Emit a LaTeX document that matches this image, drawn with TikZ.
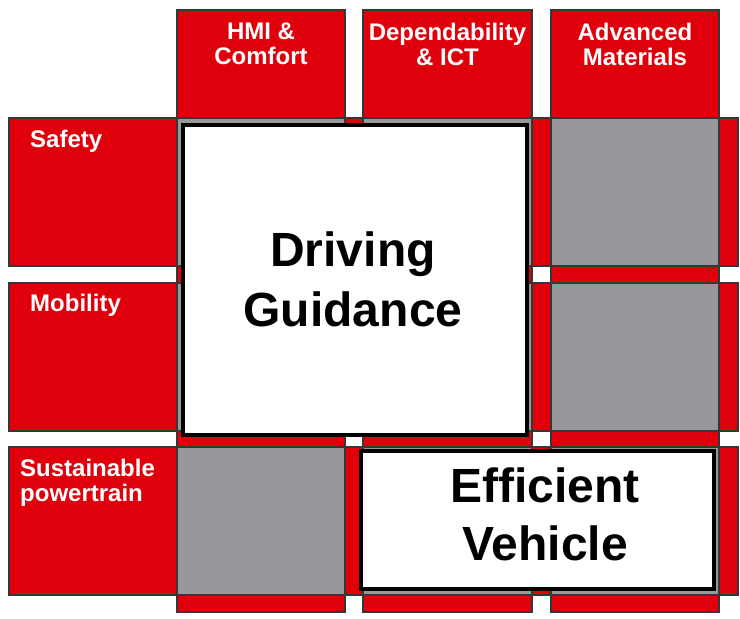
\documentclass[tikz,border=0pt]{standalone}
\usepackage{fontspec}
\setmainfont{Liberation Sans}
\usepackage{tikz}
\usetikzlibrary{positioning}
\definecolor{StripRed}{RGB}{223, 0, 11}
\definecolor{CellGrey}{RGB}{152, 151, 156}
\definecolor{EdgeGrey}{RGB}{55, 55, 58}

\tikzset{
    strip/.style={fill=StripRed, draw=EdgeGrey, line width=1.3pt},
    cell/.style={fill=CellGrey, draw=EdgeGrey, line width=1.3pt},
    focusbox/.style={fill=white, draw=black, line width=4pt},
    headlabel/.style={text=white, inner sep=0pt, align=center, font=\bfseries\fontsize{24}{25}\selectfont},
    bigtext/.style={text=black, inner sep=0pt, align=center, font=\bfseries\fontsize{48}{60}\selectfont}
}

\begin{document}
\begin{tikzpicture}[x=1pt, y=-1pt]
    \useasboundingbox (0,0) rectangle (740,619);

    % Columns (domains)
    \foreach \xa/\xb in {177/345, 363/532, 551/719}
        \draw[strip] (\xa,10) rectangle (\xb,612);

    % Rows (applications)
    \foreach \ya/\yb in {118/266, 283/431, 447/595}
        \draw[strip] (9,\ya) rectangle (738,\yb);

    % Grey crossings
    \foreach \xa/\xb in {177/345, 363/532, 551/719}
        \foreach \ya/\yb in {118/266, 283/431, 447/595}
            \draw[cell] (\xa,\ya) rectangle (\xb,\yb);

    % Column heads
    \node[headlabel, anchor=north] (hmi) at (261,22.5) {HMI \&\\Comfort};
    \node[headlabel, anchor=north] (ict) at (447.5,22.5) {Dependability\\\& ICT};
    \node[headlabel, anchor=north] (materials) at (635,22.5) {Advanced\\Materials};

    % Row heads
    \node[headlabel, align=left, anchor=north west] (safety) at (30,130) {Safety};
    \node[headlabel, align=left, anchor=north west] (mobility) at (30,294) {Mobility};
    \node[headlabel, align=left, anchor=north west] (powertrain) at (20,459) {Sustainable\\powertrain};

    % Driving Guidance
    \draw[focusbox] (183,125) rectangle (527,435);
    \node[bigtext, anchor=north] (driving) at (353,232) {Driving\\Guidance};

    % Efficient Vehicle
    \draw[focusbox] (361,451) rectangle (714,589);
    \node[bigtext, anchor=north, font=\bfseries\fontsize{48}{58}\selectfont] (efficient) at (545,468) {Efficient\\Vehicle};
\end{tikzpicture}
\end{document}
